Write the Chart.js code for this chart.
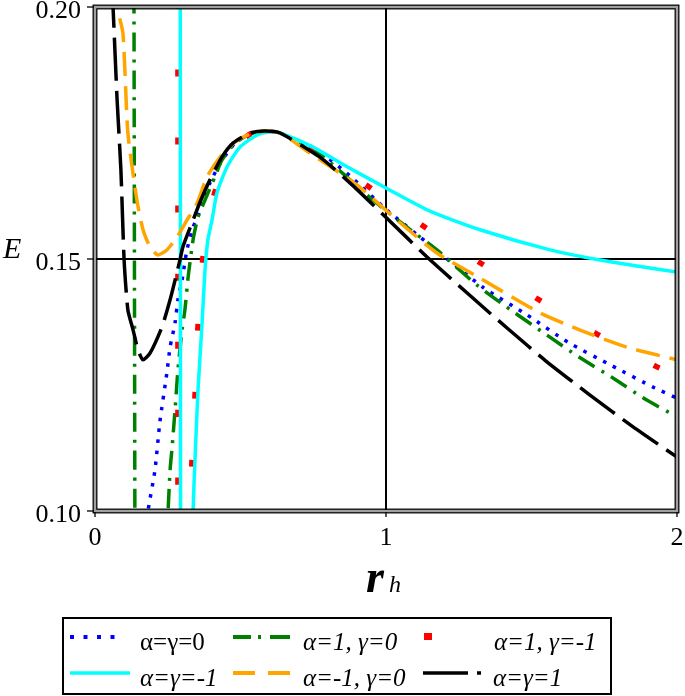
<!DOCTYPE html>
<html><head><meta charset="utf-8">
<script src="https://cdn.jsdelivr.net/npm/chart.js@4"></script>
<style>
html,body{margin:0;padding:0;background:#fff;}
#wrap{position:relative;width:685px;height:696px;overflow:hidden;}
#c{position:absolute;left:0;top:0;width:685px;height:696px;}
.lbl{position:absolute;font-family:"Liberation Serif","Times New Roman",Times,"DejaVu Serif",serif;color:#000;white-space:nowrap;line-height:1;}
#legend{position:absolute;left:62px;top:617px;width:546px;height:74px;border:2px solid #000;box-sizing:content-box;}
#samples{position:absolute;left:0;top:0;pointer-events:none;}
</style></head>
<body><div id="wrap">
<canvas id="c" width="685" height="696"></canvas>
<div class="lbl" style="left:3px;top:233px;font-size:30px;font-style:italic">E</div>
<div class="lbl" style="left:366px;top:554px;font-size:46px;font-style:italic;font-weight:bold">r</div>
<div class="lbl" style="left:389px;top:572px;font-size:24px;font-style:italic">h</div>
<div id="legend"></div>
<svg id="samples" width="685" height="696"></svg>
</div>
<script>
// ---- data (r_h, E) ----
const xTicks = [0, 1, 2];
const yTicks = [0.10, 0.15, 0.20];

// α=γ=0 (blue dotted)
const r_a0g0 = [0.175,0.182,0.206,0.223,0.247,0.258,0.275,0.285,0.299,0.316,0.337,0.354,0.371,0.395,0.430,0.481,0.533,0.584,0.636,0.773,0.876,1.003,1.151,1.333,1.485,1.625,1.777,1.924,2.000];
const E_a0g0 = [0.0962,0.1000,0.1081,0.1177,0.1274,0.1325,0.1373,0.1419,0.1458,0.1518,0.1563,0.1585,0.1617,0.1651,0.1690,0.1730,0.1748,0.1754,0.1750,0.1712,0.1665,0.1597,0.1528,0.1444,0.1389,0.1335,0.1288,0.1244,0.1224];

// α=1, γ=0 (green dash-dot)
const r_a1g0 = [0.133,0.134,0.137,0.138,0.240,0.247,0.251,0.258,0.265,0.275,0.285,0.299,0.309,0.320,0.337,0.354,0.378,0.412,0.436,0.481,0.533,0.584,0.636,0.773,0.955,1.072,1.175,1.313,1.443,1.553,1.667,1.780,1.890,2.000];
const E_a1g0 = [0.21,0.20,0.10,0.09,0.05,0.0962,0.1000,0.1081,0.1127,0.1200,0.1280,0.1359,0.1399,0.1464,0.1538,0.1583,0.1617,0.1663,0.1696,0.1730,0.1748,0.1754,0.1750,0.1708,0.1617,0.1563,0.1518,0.1448,0.1393,0.1349,0.1304,0.1264,0.1222,0.1187];

// α=1, γ=-1 (red sparse dots)
const r_a1gm1 = [0.285,0.285,0.285,0.285,0.290,0.322,0.325,0.326,0.333,0.344,0.354,0.371,0.392,0.412,0.447,0.491,0.533,0.584,0.636,0.746,0.942,1.134,1.330,1.526,1.725,1.931,2.000];
const E_a1gm1 = [0.21,0.20,0.10,0.09,0.048,0.048,0.09,0.1000,0.1097,0.1234,0.1369,0.1504,0.1587,0.1633,0.1687,0.1726,0.1748,0.1754,0.1750,0.1720,0.1643,0.1563,0.1490,0.1419,0.1351,0.1286,0.1270];

// α=γ=-1 (cyan solid)
const r_am1gm1 = [0.293,0.293,0.294,0.294,0.296,0.330,0.335,0.337,0.344,0.354,0.368,0.378,0.388,0.402,0.419,0.454,0.498,0.557,0.601,0.636,0.749,0.866,1.000,1.151,1.323,1.564,1.735,2.000];
const E_am1gm1 = [0.21,0.20,0.10,0.09,0.05,0.05,0.09,0.1000,0.1107,0.1240,0.1373,0.1478,0.1538,0.1577,0.1631,0.1683,0.1722,0.1746,0.1752,0.1750,0.1722,0.1683,0.1641,0.1595,0.1558,0.1518,0.1498,0.1474];

// α=-1, γ=0 (orange dashed)
const r_am1g0 = [0.072,0.076,0.096,0.113,0.144,0.165,0.189,0.216,0.247,0.282,0.316,0.351,0.385,0.430,0.481,0.533,0.584,0.636,0.739,0.900,1.038,1.175,1.323,1.529,1.667,1.828,2.000];
const E_am1g0 = [0.2044,0.2000,0.1948,0.1750,0.1617,0.1558,0.1524,0.1508,0.1518,0.1544,0.1577,0.1611,0.1663,0.1702,0.1732,0.1748,0.1754,0.1750,0.1710,0.1647,0.1577,0.1512,0.1462,0.1393,0.1359,0.1325,0.1300];

// α=γ=1 (black long dash)
const r_a1g1 = [0.058,0.062,0.076,0.089,0.100,0.113,0.131,0.148,0.165,0.189,0.230,0.258,0.292,0.302,0.337,0.361,0.395,0.436,0.474,0.533,0.584,0.636,0.773,0.876,1.003,1.141,1.278,1.416,1.553,1.701,1.849,2.000];
const E_a1g1 = [0.2044,0.2000,0.1815,0.1677,0.1498,0.1399,0.1359,0.1319,0.1300,0.1313,0.1365,0.1419,0.1498,0.1524,0.1577,0.1613,0.1657,0.1702,0.1730,0.1750,0.1754,0.1750,0.1702,0.1651,0.1581,0.1504,0.1433,0.1363,0.1296,0.1230,0.1167,0.1107];

const pts = (rs, es) => rs.map((r, i) => ({x: r, y: es[i]}));

function ds(label, rs, es, color, width, dash, offset) {
  return {label, data: pts(rs, es), borderColor: color, backgroundColor: color,
    borderWidth: width, borderDash: dash, borderDashOffset: offset || 0,
    borderCapStyle: 'butt', borderJoinStyle: 'round',
    showLine: true, pointRadius: 0, tension: 0.2, clip: 0, fill: false};
}

// first dataset is drawn on top
const datasets = [
  ds('α=γ=1', r_a1g1, E_a1g1, '#000000', 3.5, [43, 10]),
  ds('α=-1, γ=0', r_am1g0, E_am1g0, '#FFA500', 3.5, [24, 10]),
  ds('α=γ=-1', r_am1gm1, E_am1gm1, '#00FFFF', 3.5, []),
  ds('α=1, γ=-1', r_a1gm1, E_a1gm1, '#FF0000', 5.5, [7, 61], 23),
  ds('α=1, γ=0', r_a1g0, E_a1g0, '#008000', 3.5, [19, 8, 3, 8]),
  ds('α=γ=0', r_a0g0, E_a0g0, '#0000FF', 3.5, [3.5, 7.5])
];

const frame = {
  id: 'frame',
  afterDatasetsDraw(chart) {
    const {ctx, chartArea: a} = chart;
    const w = a.right - a.left, h = a.bottom - a.top;
    ctx.save();
    ctx.setLineDash([]);
    ctx.strokeStyle = '#a0a0a0'; ctx.lineWidth = 2.4;
    ctx.strokeRect(a.left, a.top, w, h);
    ctx.strokeStyle = '#000'; ctx.lineWidth = 1.3;
    ctx.strokeRect(a.left - 1.8, a.top - 1.8, w + 3.6, h + 3.6);
    ctx.strokeRect(a.left + 1.8, a.top + 1.8, w - 3.6, h - 3.6);
    ctx.restore();
  }
};

const tickFont = {family: '"Liberation Serif","Times New Roman",Times,"DejaVu Serif",serif', size: 26};

new Chart(document.getElementById('c'), {
  type: 'scatter',
  data: {datasets},
  options: {
    responsive: false, animation: false, devicePixelRatio: 1,
    layout: {autoPadding: false, padding: {left: 0, top: 7, right: 8, bottom: 0}},
    plugins: {legend: {display: false}, tooltip: {enabled: false}, title: {display: false}},
    scales: {
      x: {
        type: 'linear', min: 0, max: 2,
        afterBuildTicks: s => { s.ticks = xTicks.map(v => ({value: v})); },
        afterFit: s => { s.height = 696 - 511; s.paddingLeft = 0; s.paddingRight = 0; },
        ticks: {color: '#000', font: tickFont, padding: 6, maxRotation: 0, callback: v => String(v)},
        grid: {color: '#000', lineWidth: 2, tickLength: 6, tickColor: '#000', tickWidth: 1.3},
        border: {display: false}
      },
      y: {
        type: 'linear', min: 0.10, max: 0.20,
        afterBuildTicks: s => { s.ticks = yTicks.map(v => ({value: v})); },
        afterFit: s => { s.width = 95; s.paddingTop = 0; s.paddingBottom = 0; },
        ticks: {color: '#000', font: tickFont, padding: 6, labelOffset: 4, callback: v => v.toFixed(2)},
        grid: {color: '#000', lineWidth: 2, tickLength: 8, tickColor: '#000', tickWidth: 1.3},
        border: {display: false}
      }
    }
  },
  plugins: [frame]
});

// ---- HTML legend ----
const legendItems = [
  {text: 'α=γ=0', x: 140, y: 650, italic: false},
  {text: 'α=1, γ=0', x: 303, y: 650, italic: true},
  {text: 'α=1, γ=-1', x: 494, y: 650, italic: true},
  {text: 'α=γ=-1', x: 140, y: 686, italic: true},
  {text: 'α=-1, γ=0', x: 303, y: 686, italic: true},
  {text: 'α=γ=1', x: 493, y: 686, italic: true}
];
const wrap = document.getElementById('wrap');
legendItems.forEach(it => {
  const d = document.createElement('div');
  d.className = 'lbl';
  d.textContent = it.text;
  d.style.fontSize = '25px';
  d.style.fontStyle = it.italic ? 'italic' : 'normal';
  d.style.left = it.x + 'px';
  d.style.top = (it.y - 21) + 'px';
  wrap.appendChild(d);
});
const svg = document.getElementById('samples');
svg.innerHTML =
  '<line x1="70" y1="637" x2="124" y2="637" stroke="#0000FF" stroke-width="4" stroke-dasharray="4 9.5"/>' +
  '<line x1="233" y1="637" x2="290" y2="637" stroke="#008000" stroke-width="4" stroke-dasharray="18 7 3 9 20"/>' +
  '<rect x="424" y="633" width="8" height="7" fill="#FF0000"/>' +
  '<line x1="70" y1="673" x2="130" y2="673" stroke="#00FFFF" stroke-width="3.5"/>' +
  '<line x1="233" y1="673" x2="290" y2="673" stroke="#FFA500" stroke-width="4" stroke-dasharray="22 13"/>' +
  '<line x1="423" y1="673" x2="468" y2="673" stroke="#000" stroke-width="3.5"/>' +
  '<line x1="477" y1="673" x2="481" y2="673" stroke="#000" stroke-width="3.5"/>';
</script>
</body></html>
